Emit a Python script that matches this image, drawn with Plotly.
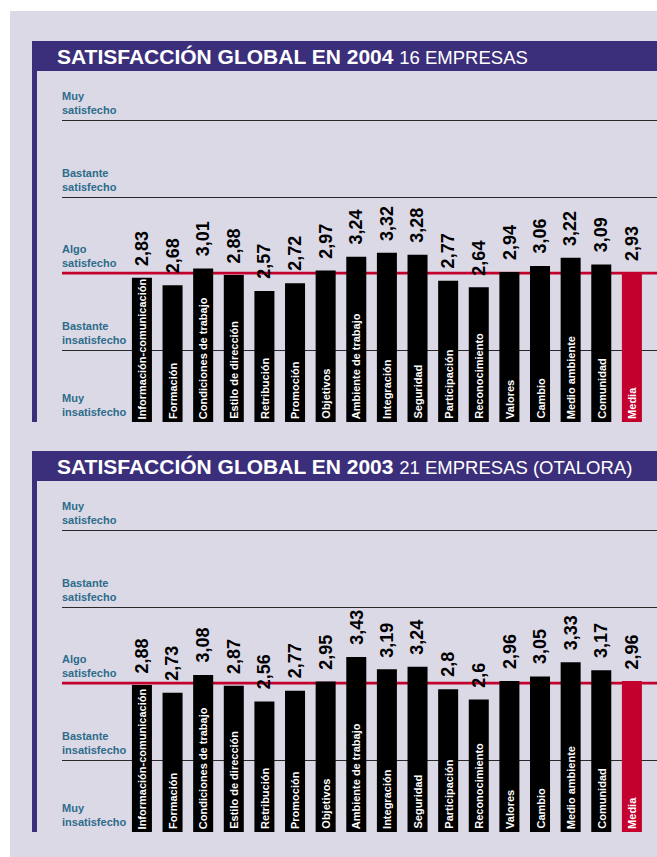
import plotly.graph_objects as go

# ---------------- data ----------------
categories = ["Información-comunicación", "Formación", "Condiciones de trabajo",
              "Estilo de dirección", "Retribución", "Promoción", "Objetivos",
              "Ambiente de trabajo", "Integración", "Seguridad", "Participación",
              "Reconocimiento", "Valores", "Cambio", "Medio ambiente", "Comunidad", "Media"]
values_2004 = [2.83, 2.68, 3.01, 2.88, 2.57, 2.72, 2.97, 3.24, 3.32, 3.28,
               2.77, 2.64, 2.94, 3.06, 3.22, 3.09, 2.93]
values_2003 = [2.88, 2.73, 3.08, 2.87, 2.56, 2.77, 2.95, 3.43, 3.19, 3.24,
               2.8, 2.6, 2.96, 3.05, 3.33, 3.17, 2.96]
level_labels = ["Muy<br>insatisfecho", "Bastante<br>insatisfecho", "Algo<br>satisfecho",
                "Bastante<br>satisfecho", "Muy<br>satisfecho"]
level_values = [0, 1.41, 2.92, 4.41, 5.92]
titles_bold = ["SATISFACCIÓN GLOBAL EN 2004", "SATISFACCIÓN GLOBAL EN 2003"]
titles_light = ["16 EMPRESAS", "21 EMPRESAS (OTALORA)"]

# ---------------- style / layout ----------------
W, H = 657, 857
PANEL = "#dcd9e7"
PURPLE = "#3b2f7b"
TEAL = "#2c6c8a"
RED = "#c3002d"
SANS = "Liberation Sans, Arial, sans-serif"

PX_PER_UNIT = 51.0
PLOT_H = 346  # px of plotting area above the zero line
charts = [
    dict(vals=values_2004, top_bar=41, bottom=422),
    dict(vals=values_2003, top_bar=451, bottom=832),
]


def px(x):  # pixel x -> paper x
    return x / W


def py(y):  # pixel y -> paper y
    return 1 - y / H


fig = go.Figure()
shapes = [dict(type="rect", xref="paper", yref="paper", x0=px(10), x1=1, y0=0, y1=py(11),
               fillcolor=PANEL, line_width=0, layer="below")]
annotations = []
bar_colors = [RED if c == "Media" else "black" for c in categories]
grid_vals = [lv for k, lv in enumerate(level_values) if k != 2]

for i, ch in enumerate(charts):
    n = "" if i == 0 else str(i + 1)
    xa, ya = "x" + n, "y" + n
    fig.add_trace(go.Bar(x=categories, y=ch["vals"], marker_color=bar_colors,
                         marker_line_width=0, xaxis=xa, yaxis=ya, showlegend=False,
                         hoverinfo="x+y"))
    top_px = ch["bottom"] - PLOT_H
    fig.layout["xaxis" + n] = dict(domain=[px(62), 1], range=[-2.61, 16.82], type="category",
                                   showticklabels=False, showgrid=False, zeroline=False,
                                   ticks="", anchor=ya, fixedrange=True)
    fig.layout["yaxis" + n] = dict(domain=[py(ch["bottom"]), py(top_px)],
                                   range=[0, PLOT_H / PX_PER_UNIT], tickvals=grid_vals,
                                   showticklabels=False, showgrid=True, gridcolor="#2a2a2a",
                                   gridwidth=1.4, zeroline=False, anchor=xa, fixedrange=True)
    # title bar and left stripe
    shapes.append(dict(type="rect", xref="paper", yref="paper", x0=px(32), x1=1,
                       y0=py(ch["top_bar"] + 30), y1=py(ch["top_bar"]),
                       fillcolor=PURPLE, line_width=0, layer="below"))
    shapes.append(dict(type="rect", xref="paper", yref="paper", x0=px(32), x1=px(37),
                       y0=py(ch["bottom"]), y1=py(ch["top_bar"] + 30),
                       fillcolor=PURPLE, line_width=0, layer="below"))
    # red reference line (Algo satisfecho)
    shapes.append(dict(type="line", xref="paper", yref=ya, x0=px(62), x1=1,
                       y0=level_values[2], y1=level_values[2],
                       line=dict(color=RED, width=2.6), layer="below"))
    annotations.append(dict(xref="paper", yref="paper", x=px(55), y=py(ch["top_bar"] + 15.5),
                            xanchor="left", yanchor="middle", showarrow=False,
                            text=f"<b>{titles_bold[i]}</b> <span style='font-size:18.5px'>{titles_light[i]}</span>",
                            font=dict(family=SANS, size=21, color="white")))
    for lab, lv in zip(level_labels, level_values):
        annotations.append(dict(xref="paper", yref=ya, x=px(60), y=lv, xanchor="left",
                                yanchor="bottom", yshift=2, align="left", showarrow=False,
                                text=f"<b>{lab}</b>",
                                font=dict(family=SANS, size=11, color=TEAL)))
    for c, v in zip(categories, ch["vals"]):
        annotations.append(dict(xref=xa, yref=ya, x=c, y=v, textangle=-90, yanchor="bottom",
                                yshift=10, showarrow=False,
                                text="<b>" + f"{v:g}".replace(".", ",") + "</b>",
                                font=dict(family=SANS, size=18, color="black")))
        annotations.append(dict(xref=xa, yref=ya, x=c, y=0, textangle=-90, yanchor="bottom",
                                yshift=1, showarrow=False, text=f"<b>{c}</b>",
                                font=dict(family=SANS, size=11, color="white")))

fig.update_layout(width=W, height=H, autosize=False, margin=dict(l=0, r=0, t=0, b=0),
                  paper_bgcolor="white", plot_bgcolor="rgba(0,0,0,0)",
                  bargap=1 - 20 / 30.6, shapes=shapes, annotations=annotations,
                  font=dict(family=SANS))
fig.write_html("out.html", config={"displayModeBar": False},
               post_script="document.body.style.margin='0';document.body.style.overflow='hidden';")
